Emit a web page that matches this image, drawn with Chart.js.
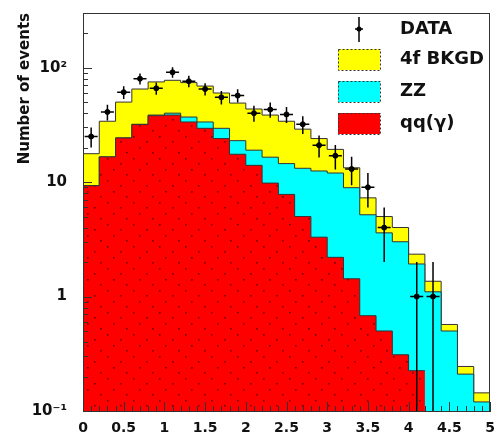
<!DOCTYPE html>
<html>
<head>
<meta charset="utf-8">
<script src="https://cdn.jsdelivr.net/npm/chart.js@4.4.1/dist/chart.umd.min.js"></script>
<style>
	html, body { margin: 0; padding: 0; background: #fff; overflow: hidden; }
	#wrap { position: absolute; left: 0; top: 0; width: 495px; height: 434px; }
</style>
</head>
<body>
<div id="wrap"><canvas id="histc"></canvas></div>
<script>
// Data

var binLow = 0;
var binWidth = 0.2;
var nBins = 25;

// stacked components per bin (events)
var qqValues = [9.3, 16.6, 24.3, 31.8, 38, 38.5, 33.5, 29.5, 24, 17.5, 14, 9.8, 7.8, 5.0, 3.3, 2.2, 1.43, 0.68, 0.5, 0.31, 0.225, 0, 0, 0, 0];
var zzValues = [0, 0, 0, 0.2, 0.5, 1.5, 3.5, 4.0, 5.5, 5.5, 5.0, 6.7, 6.7, 8.2, 9.2, 9.8, 7.5, 4.5, 3.1, 2.7, 1.7, 1.1, 0.5, 0.21, 0.12];
var bkgdValues = [8.4, 17.4, 25.7, 33, 36.5, 37.5, 37, 35.5, 30.5, 26, 24.5, 22, 19.5, 15.8, 11.5, 7.3, 4.4, 2.1, 1.4, 1.0, 0.42, 0.26, 0.07, 0.035, 0.024];
var dataValues = [25, 41, 61, 80, 66, 91, 76, 65, 55, 57, 40, 43, 39, 32, 21, 17, 13, 9, 4, 0, 1, 1, 0, 0, 0];

var xTicks = [0, 0.5, 1, 1.5, 2, 2.5, 3, 3.5, 4, 4.5, 5];
var yTicks = [0.1, 1, 10, 100];
var yTickLabels = ["10\u207B\u00B9", "1", "10", "10\u00B2"];

var legendLabels = ["DATA", "4f BKGD", "ZZ", "qq(\u03B3)"];

// Helpers

// step outline; trailing empty bins are left out (log axis) and the last bin is closed
function stepPoints(values) {
	var last = values.length - 1;
	while (last > 0 && values[last] <= 0) last--;
	var pts = [];
	for (var i = 0; i <= last; i++) {
		pts.push({x: binLow + i * binWidth, y: values[i]});
	}
	pts.push({x: binLow + (last + 1) * binWidth, y: values[last]});
	return pts;
}

function addUp(a, b) {
	return a.map(function(v, i) { return v + b[i]; });
}

var redTop = qqValues;
var cyanTop = addUp(redTop, zzValues);
var yellowTop = addUp(cyanTop, bkgdValues);

var dataPoints = dataValues.map(function(n, i) {
	return {x: binLow + (i + 0.5) * binWidth, y: n > 0 ? n : null};
});

function dotPattern() {
	var c = document.createElement('canvas');
	c.width = 26; c.height = 22;
	var g = c.getContext('2d');
	g.fillStyle = '#ff0000';
	g.fillRect(0, 0, 26, 22);
	g.fillStyle = 'rgba(70,0,0,0.75)';
	[[3, 4], [16, 9], [9, 15], [22, 20]].forEach(function(p) {
		g.fillRect(p[0], p[1], 1.6, 1.6);
	});
	return g.createPattern(c, 'repeat');
}

// Plugin: frame, inner ticks, error bars, legend

var rootStyle = {
	id: 'rootStyle',
	afterDatasetsDraw: function(chart) {
		var ctx = chart.ctx;
		var a = chart.chartArea;
		var xs = chart.scales.x;
		var ys = chart.scales.y;

		ctx.save();

		// error bars
		ctx.strokeStyle = '#000';
		ctx.lineWidth = 1.5;
		dataValues.forEach(function(n, i) {
			if (n <= 0) return;
			var cx = binLow + (i + 0.5) * binWidth;
			var err = Math.sqrt(n);
			var px = xs.getPixelForValue(cx);
			var lo = n - err > 0 ? ys.getPixelForValue(n - err) : a.bottom;
			var hi = ys.getPixelForValue(n + err);
			var py = ys.getPixelForValue(n);
			ctx.beginPath();
			ctx.moveTo(px, Math.min(lo, a.bottom));
			ctx.lineTo(px, hi);
			ctx.moveTo(xs.getPixelForValue(cx - 0.08), py);
			ctx.lineTo(xs.getPixelForValue(cx + 0.08), py);
			ctx.stroke();
		});

		// frame
		ctx.strokeStyle = '#333';
		ctx.lineWidth = 1;
		ctx.strokeRect(Math.round(a.left) + 0.5, Math.round(a.top) + 0.5, Math.round(a.right - a.left) - 1, Math.round(a.bottom - a.top));

		// y ticks (log, inside)
		ctx.beginPath();
		[0.1, 1, 10, 100].forEach(function(d) {
			for (var k = 1; k <= 9; k++) {
				var v = k * d;
				if (v < ys.min || v > ys.max) continue;
				var py = Math.round(ys.getPixelForValue(v)) + 0.5;
				ctx.moveTo(a.left, py);
				ctx.lineTo(a.left + (k === 1 ? 9 : 5), py);
			}
		});
		// x ticks
		for (var j = 0; j <= 50; j++) {
			var px = Math.round(xs.getPixelForValue(j * 0.1)) + 0.5;
			ctx.moveTo(px, a.bottom);
			ctx.lineTo(px, a.bottom - (j % 5 === 0 ? 9 : 5));
		}
		ctx.stroke();

		// legend
		var boxX = 338, boxW = 42, textX = 400;
		var rows = [29, 59, 91, 123];
		ctx.font = 'bold 18px "DejaVu Sans"';
		ctx.fillStyle = '#111';
		ctx.textBaseline = 'middle';
		ctx.textAlign = 'left';
		legendLabels.forEach(function(t, i) {
			ctx.fillText(t, textX, rows[i]);
		});

		ctx.strokeStyle = '#000';
		ctx.lineWidth = 1.5;
		ctx.beginPath();
		ctx.moveTo(boxX + boxW / 2, rows[0] - 12);
		ctx.lineTo(boxX + boxW / 2, rows[0] + 13);
		ctx.moveTo(boxX + boxW / 2 - 4, rows[0]);
		ctx.lineTo(boxX + boxW / 2 + 4, rows[0]);
		ctx.stroke();
		ctx.beginPath();
		ctx.arc(boxX + boxW / 2, rows[0], 2.5, 0, Math.PI * 2);
		ctx.fillStyle = '#000';
		ctx.fill();

		var fills = ['#ffff00', '#00ffff', '#ff0000'];
		ctx.setLineDash([2, 2]);
		ctx.lineWidth = 1;
		ctx.strokeStyle = '#333';
		fills.forEach(function(c, i) {
			var cy = rows[i + 1];
			ctx.fillStyle = c;
			ctx.fillRect(boxX, cy - 10, boxW, 21);
			ctx.strokeRect(boxX + 0.5, cy - 9.5, boxW, 21);
		});

		ctx.restore();
	}
};

// Chart

new Chart("histc", {
	type: "line",
	data: {
		datasets: [{
			label: legendLabels[0],
			data: dataPoints,
			showLine: false,
			pointRadius: 2.5,
			pointBackgroundColor: "#000",
			pointBorderColor: "#000"
		},
		{
			label: legendLabels[3],
			data: stepPoints(redTop),
			stepped: true,
			fill: 'start',
			backgroundColor: dotPattern(),
			borderColor: "#333",
			borderWidth: 1,
			pointRadius: 0
		},
		{
			label: legendLabels[2],
			data: stepPoints(cyanTop),
			stepped: true,
			fill: 'start',
			backgroundColor: "#00ffff",
			borderColor: "#333",
			borderWidth: 1,
			pointRadius: 0
		},
		{
			label: legendLabels[1],
			data: stepPoints(yellowTop),
			stepped: true,
			fill: 'start',
			backgroundColor: "#ffff00",
			borderColor: "#333",
			borderWidth: 1,
			pointRadius: 0
		}]
	},
	options: {
		responsive: true,
		maintainAspectRatio: false,
		animation: false,
		layout: {padding: {top: 13, right: 2, bottom: 0, left: 0}},
		plugins: {
			legend: {display: false},
			tooltip: {enabled: false}
		},
		scales: {
			x: {
				type: 'linear',
				min: 0,
				max: 5,
				grid: {display: false, drawTicks: false},
				border: {display: true, color: '#333'},
				afterBuildTicks: function(s) {
					s.ticks = xTicks.map(function(v) { return {value: v}; });
				},
				afterFit: function(s) {
					s.height = 23;
					s.paddingLeft = 0;
					s.paddingRight = 0;
				},
				ticks: {
					color: '#111',
					padding: 9,
					maxRotation: 0,
					autoSkip: false,
					font: {family: '"DejaVu Sans"', size: 14, weight: 'bold'},
					callback: function(v) { return String(v); }
				}
			},
			y: {
				type: 'logarithmic',
				min: 0.1,
				max: 300,
				grid: {display: false, drawTicks: false},
				border: {display: true, color: '#333'},
				afterBuildTicks: function(s) {
					s.ticks = yTicks.map(function(v) { return {value: v}; });
				},
				afterFit: function(s) {
					s.width = 83;
					s.paddingTop = 0;
					s.paddingBottom = 0;
				},
				ticks: {
					color: '#111',
					padding: 16,
					font: {family: '"DejaVu Sans"', size: 15, weight: 'bold'},
					callback: function(v) {
						var i = yTicks.indexOf(v);
						return i >= 0 ? yTickLabels[i] : '';
					}
				},
				title: {
					display: true,
					text: 'Number of events',
					align: 'end',
					color: '#111',
					padding: {top: 16, bottom: 0},
					font: {family: '"DejaVu Sans"', size: 15, weight: 'bold'}
				}
			}
		}
	},
	plugins: [rootStyle]
});
</script>
</body>
</html>
